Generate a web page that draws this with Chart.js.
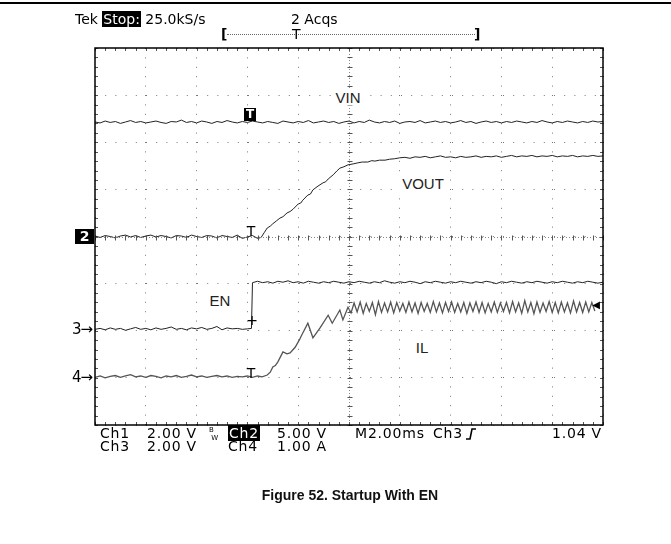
<!DOCTYPE HTML>
<html>
<head>
  <meta name='viewport' content='width=device-width, initial-scale=1'>
  <title>Figure 52. Startup With EN</title>
  <script src='https://cdn.jsdelivr.net/npm/chart.js'></script>
  <style>
    body {
      margin: 0;
      padding: 0;
      background-color: #fff;
      width: 671px;
      height: 544px;
      overflow: hidden;
      position: relative;
    }
    #scope {
      position: absolute;
      left: 0;
      top: 0;
    }
    .txt {
      position: absolute;
      font-family: 'DejaVu Sans', sans-serif;
      font-size: 14px;
      line-height: 14px;
      color: #000;
      white-space: nowrap;
    }
    .ft {
      letter-spacing: 0.8px;
    }
    .inv {
      background-color: #000;
      color: #fff;
      padding: 0 1px;
    }
    .lbl {
      position: absolute;
      font-family: Arial, 'Liberation Sans', sans-serif;
      font-size: 15px;
      line-height: 17px;
      color: #222;
      background-color: #fff;
      padding: 0 4px;
      transform: translate(-50%, -50%);
    }
    .mk {
      position: absolute;
      font-family: 'DejaVu Sans', sans-serif;
      font-size: 14px;
      line-height: 14px;
      color: #000;
      transform: translate(-50%, -50%);
    }
    .topline {
      position: absolute;
      left: 0;
      top: 2px;
      width: 671px;
      height: 2px;
      background-color: #000;
    }
    .caption {
      position: absolute;
      left: 0;
      width: 700px;
      top: 487px;
      text-align: center;
      font-family: Arial, 'Liberation Sans', sans-serif;
      font-weight: bold;
      font-size: 14px;
      color: #111;
    }
  </style>
</head>
<body>
  <canvas id='scope' width='671' height='544'></canvas>
  <div class='topline'></div>

  <!-- cabecalho do osciloscopio -->
  <div class='txt' style='left:75px;top:12px'>Tek <span class='inv'>Stop:</span> 25.0kS/s</div>
  <div class='txt' style='left:291px;top:12px'>2 Acqs</div>
  <div class='txt' style='left:221px;top:27px;font-weight:bold'>[</div>
  <div style='position:absolute;left:227px;top:34px;width:248px;border-top:1px dotted #666'></div>
  <div class='txt' style='left:292px;top:27px'>T</div>
  <div class='txt' style='left:474px;top:27px;font-weight:bold'>]</div>

  <!-- rotulos dos canais -->
  <div class='lbl' style='left:348px;top:97px'>VIN</div>
  <div class='lbl' style='left:423px;top:183px'>VOUT</div>
  <div class='lbl' style='left:220px;top:300px'>EN</div>
  <div class='lbl' style='left:422px;top:347px'>IL</div>

  <!-- marcadores -->
  <div class='txt inv' style='left:244px;top:108px;font-size:12px;line-height:13px;font-weight:bold;padding:0 2px'>T</div>
  <div class='mk' style='left:251px;top:231px'>T</div>
  <div class='mk' style='left:252px;top:320px'>+</div>
  <div class='mk' style='left:251px;top:373px'>T</div>
  <div class='mk' style='left:596px;top:305px;font-size:10px'>&#9664;</div>
  <div class='txt inv' style='left:75px;top:229px;width:17px;line-height:15px;text-align:center;font-weight:bold'>2</div>
  <div class='txt' style='left:72px;top:322px;font-size:15px;letter-spacing:-1px'>3&#8594;</div>
  <div class='txt' style='left:72px;top:370px;font-size:15px;letter-spacing:-1px'>4&#8594;</div>

  <!-- rodape do osciloscopio -->
  <div class='txt ft' style='left:100px;top:426px'>Ch1</div>
  <div class='txt ft' style='left:147px;top:426px'>2.00 V</div>
  <div class='txt' style='left:209px;top:426px;font-size:7px;line-height:8px'>B<br>&nbsp;W</div>
  <div class='txt ft' style='left:228px;top:426px'><span class='inv'>Ch2</span></div>
  <div class='txt ft' style='left:277px;top:426px'>5.00 V</div>
  <div class='txt ft' style='left:355px;top:426px'>M2.00ms</div>
  <div class='txt ft' style='left:433px;top:426px'>Ch3</div>
  <svg style='position:absolute;left:465px;top:428px' width='12' height='12'><polyline points='1,11 5,11 7,1 11,1' fill='none' stroke='#000' stroke-width='1.6'/></svg>
  <div class='txt ft' style='left:552px;top:426px'>1.04 V</div>
  <div class='txt ft' style='left:100px;top:439px'>Ch3</div>
  <div class='txt ft' style='left:147px;top:439px'>2.00 V</div>
  <div class='txt ft' style='left:228px;top:439px'>Ch4</div>
  <div class='txt ft' style='left:277px;top:439px'>1.00 A</div>

  <div class='caption'>Figure 52. Startup With EN</div>

  <script>
    // eixo x em divisoes (2 ms/div), eixo y em divisoes (-4 a 4)
    var xTicks = [0, 1, 2, 3, 4, 5, 6, 7, 8, 9, 10];
    var yTicks = [-4, -3, -2, -1, 0, 1, 2, 3, 4];

    // VIN (Ch1) - amostras a cada 0.1 div
    var vinTime = [0,0.1,0.2,0.3,0.4,0.5,0.6,0.7,0.8,0.9,1,1.1,1.2,1.3,1.4,1.5,1.6,1.7,1.8,1.9,2,2.1,2.2,2.3,2.4,2.5,2.6,2.7,2.8,2.9,3,3.1,3.2,3.3,3.4,3.5,3.6,3.7,3.8,3.9,4,4.1,4.2,4.3,4.4,4.5,4.6,4.7,4.8,4.9,5,5.1,5.2,5.3,5.4,5.5,5.6,5.7,5.8,5.9,6,6.1,6.2,6.3,6.4,6.5,6.6,6.7,6.8,6.9,7,7.1,7.2,7.3,7.4,7.5,7.6,7.7,7.8,7.9,8,8.1,8.2,8.3,8.4,8.5,8.6,8.7,8.8,8.9,9,9.1,9.2,9.3,9.4,9.5,9.6,9.7,9.8,9.9,10];
    var vinDiv = [2.43,2.41,2.45,2.42,2.44,2.40,2.43,2.46,2.42,2.44,
      2.41,2.43,2.45,2.42,2.40,2.44,2.43,2.47,2.42,2.44,
      2.41,2.45,2.43,2.40,2.44,2.42,2.46,2.43,2.41,2.44,
      2.42,2.45,2.43,2.41,2.44,2.42,2.40,2.45,2.43,2.41,
      2.44,2.42,2.46,2.41,2.43,2.45,2.42,2.44,2.40,2.43,
      2.45,2.41,2.44,2.42,2.47,2.43,2.41,2.44,2.42,2.45,
      2.40,2.43,2.44,2.42,2.46,2.41,2.43,2.45,2.42,2.44,
      2.41,2.43,2.46,2.42,2.44,2.40,2.43,2.45,2.42,2.44,
      2.41,2.44,2.42,2.45,2.43,2.41,2.44,2.42,2.46,2.43,
      2.41,2.44,2.42,2.45,2.43,2.41,2.44,2.42,2.45,2.43,2.44];

    // VOUT (Ch2) - [div, div]
    var voutPts = [[0,0.01],[0.1,-0.02],[0.2,0.02],[0.3,0.00],[0.4,-0.03],[0.5,0.01],[0.6,0.03],[0.7,-0.01],[0.8,0.02],[0.9,-0.02],
      [1.0,0.01],[1.1,0.03],[1.2,-0.01],[1.3,0.02],[1.4,0.00],[1.5,-0.03],[1.6,0.02],[1.7,0.01],[1.8,-0.02],[1.9,0.03],
      [2.0,0.00],[2.1,-0.02],[2.2,0.02],[2.3,0.01],[2.4,-0.03],[2.5,0.02],[2.6,0.00],[2.7,-0.02],[2.8,0.03],[2.9,-0.04],
      [3.0,-0.01],[3.1,0.02],[3.2,-0.04],[3.27,-0.02],
      [3.33,0.08],[3.39,0.18],[3.45,0.22],[3.50,0.27],[3.57,0.33],[3.64,0.39],[3.70,0.42],[3.78,0.50],[3.84,0.53],[3.90,0.58],
      [4.00,0.69],[4.05,0.71],[4.09,0.77],[4.19,0.88],[4.24,0.90],[4.29,0.99],[4.39,1.07],[4.49,1.14],[4.54,1.16],[4.59,1.22],
      [4.69,1.31],[4.76,1.39],[4.82,1.45],[4.90,1.48],[4.98,1.52],[5.08,1.54],[5.16,1.56],[5.26,1.58],[5.37,1.58],[5.45,1.61],
      [5.51,1.60],[5.60,1.62],[5.71,1.62],[5.80,1.64],[5.90,1.65],[6.00,1.67],
      [6.1,1.68],[6.2,1.66],[6.3,1.69],[6.4,1.68],[6.5,1.70],[6.6,1.67],[6.7,1.69],[6.8,1.71],[6.9,1.68],[7.0,1.69],
      [7.1,1.67],[7.2,1.70],[7.3,1.68],[7.4,1.69],[7.5,1.71],[7.6,1.68],[7.7,1.70],[7.8,1.69],[7.9,1.71],[8.0,1.68],
      [8.1,1.70],[8.2,1.72],[8.3,1.69],[8.4,1.71],[8.5,1.70],[8.6,1.72],[8.7,1.69],[8.8,1.71],[8.9,1.70],[9.0,1.72],
      [9.1,1.69],[9.2,1.71],[9.3,1.70],[9.4,1.72],[9.5,1.69],[9.6,1.71],[9.7,1.70],[9.8,1.72],[9.9,1.70],[10.0,1.71]];

    // EN (Ch3)
    var enPts = [[0,-1.97],[0.1,-1.95],[0.2,-1.98],[0.3,-1.94],[0.4,-1.97],[0.5,-1.95],[0.6,-1.99],[0.7,-1.96],[0.8,-1.93],[0.9,-1.97],
      [1.0,-1.95],[1.1,-1.98],[1.2,-1.94],[1.3,-1.97],[1.4,-1.95],[1.5,-1.92],[1.6,-1.97],[1.7,-1.95],[1.8,-1.98],[1.9,-1.94],
      [2.0,-1.96],[2.1,-1.93],[2.2,-1.97],[2.3,-1.95],[2.4,-1.91],[2.5,-1.98],[2.6,-1.94],[2.7,-1.96],[2.8,-1.95],[2.9,-1.97],
      [3.0,-1.96],[3.08,-1.95],[3.10,-0.98],
      [3.2,-0.95],[3.3,-0.98],[3.4,-0.96],[3.5,-0.99],[3.6,-0.95],[3.7,-0.97],[3.8,-0.94],[3.9,-0.98],[4.0,-0.96],[4.1,-0.99],
      [4.2,-0.95],[4.3,-0.97],[4.4,-0.99],[4.5,-0.96],[4.6,-0.98],[4.7,-0.95],[4.8,-0.97],[4.9,-0.99],[5.0,-0.96],[5.1,-0.98],
      [5.2,-0.95],[5.3,-0.97],[5.4,-0.99],[5.5,-0.96],[5.6,-0.98],[5.7,-0.94],[5.8,-0.97],[5.9,-0.99],[6.0,-0.96],[6.1,-0.98],
      [6.2,-0.95],[6.3,-0.97],[6.4,-1.00],[6.5,-0.96],[6.6,-0.98],[6.7,-0.95],[6.8,-0.97],[6.9,-0.99],[7.0,-0.96],[7.1,-0.98],
      [7.2,-0.95],[7.3,-0.97],[7.4,-0.99],[7.5,-0.96],[7.6,-0.98],[7.7,-0.95],[7.8,-0.97],[7.9,-1.00],[8.0,-0.96],[8.1,-0.98],
      [8.2,-0.95],[8.3,-0.97],[8.4,-0.99],[8.5,-0.96],[8.6,-0.98],[8.7,-0.95],[8.8,-0.97],[8.9,-0.99],[9.0,-0.96],[9.1,-0.98],
      [9.2,-0.95],[9.3,-0.97],[9.4,-0.99],[9.5,-0.96],[9.6,-0.98],[9.7,-0.95],[9.8,-0.97],[9.9,-0.99],[10.0,-0.97]];

    // IL (Ch4)
    var ilPts = [[0,-2.99],[0.1,-2.96],[0.2,-3.00],[0.3,-2.97],[0.4,-2.95],[0.5,-2.99],[0.6,-2.96],[0.7,-2.93],[0.8,-2.98],[0.9,-2.96],
      [1.0,-2.99],[1.1,-2.95],[1.2,-2.97],[1.3,-3.00],[1.4,-2.96],[1.5,-2.98],[1.6,-2.95],[1.7,-2.99],[1.8,-2.97],[1.9,-2.94],
      [2.0,-2.98],[2.1,-2.96],[2.2,-2.99],[2.3,-2.97],[2.4,-2.95],[2.5,-2.98],[2.6,-2.96],[2.7,-2.99],[2.8,-2.97],[2.9,-2.98],
      [3.0,-2.96],[3.1,-2.99],[3.2,-2.96],[3.29,-2.98],
      [3.39,-2.94],[3.45,-2.88],[3.50,-2.77],[3.55,-2.74],[3.60,-2.66],[3.70,-2.45],[3.78,-2.49],[3.84,-2.47],[3.94,-2.35],[4.02,-2.20],
      [4.07,-2.09],[4.19,-1.84],[4.29,-2.15],[4.43,-1.94],[4.59,-1.67],[4.67,-1.84],[4.82,-1.56],[4.88,-1.77],[4.98,-1.50],
      [5.04,-1.62],[5.10,-1.41],[5.16,-1.60],[5.22,-1.39],[5.28,-1.63],[5.34,-1.42],[5.40,-1.59],[5.46,-1.40],[5.52,-1.66],[5.58,-1.38],
      [5.64,-1.61],[5.70,-1.41],[5.76,-1.60],[5.82,-1.39],[5.88,-1.62],[5.94,-1.40],[6.00,-1.58],[6.06,-1.42],[6.12,-1.61],[6.18,-1.39],
      [6.24,-1.60],[6.30,-1.41],[6.36,-1.63],[6.42,-1.40],[6.48,-1.59],[6.54,-1.42],[6.60,-1.61],[6.66,-1.38],[6.72,-1.60],[6.78,-1.41],
      [6.84,-1.62],[6.90,-1.40],[6.96,-1.59],[7.02,-1.39],[7.08,-1.61],[7.14,-1.42],[7.20,-1.60],[7.26,-1.40],[7.32,-1.63],[7.38,-1.41],
      [7.44,-1.59],[7.50,-1.39],[7.56,-1.61],[7.62,-1.40],[7.68,-1.62],[7.74,-1.42],[7.80,-1.60],[7.86,-1.39],[7.92,-1.61],[7.98,-1.41],
      [8.04,-1.59],[8.10,-1.40],[8.16,-1.62],[8.22,-1.38],[8.28,-1.60],[8.34,-1.41],[8.40,-1.63],[8.46,-1.36],[8.52,-1.60],[8.58,-1.40],
      [8.64,-1.64],[8.70,-1.39],[8.76,-1.61],[8.82,-1.41],[8.88,-1.59],[8.94,-1.38],[9.00,-1.61],[9.06,-1.40],[9.12,-1.62],[9.18,-1.39],
      [9.24,-1.60],[9.30,-1.41],[9.36,-1.62],[9.42,-1.37],[9.48,-1.60],[9.54,-1.40],[9.60,-1.61],[9.66,-1.39],[9.72,-1.60],[9.78,-1.40],
      [9.84,-1.58]];

    function toXY(pts) {
      return pts.map(function(p) { return {x: p[0], y: p[1]}; });
    }

    function trace(pts, color, width) {
      return {
        data: toXY(pts),
        borderColor: color,
        borderWidth: width,
        pointRadius: 0,
        tension: 0,
        fill: false
      };
    }

    // moldura, eixos centrais e marcas de subdivisao (0.2 div)
    var scopeFrame = {
      id: 'scopeFrame',
      afterDatasetsDraw: function(chart) {
        var c = chart.ctx, a = chart.chartArea;
        var xs = chart.scales.x, ys = chart.scales.y;
        var cx = Math.round(xs.getPixelForValue(5)) + 0.5, cy = Math.round(ys.getPixelForValue(0)) + 0.5;
        c.save();
        c.strokeStyle = '#888';
        c.lineWidth = 1;
        c.setLineDash([1, 2]);
        c.beginPath();
        c.moveTo(cx, a.top); c.lineTo(cx, a.bottom);
        c.moveTo(a.left, cy); c.lineTo(a.right, cy);
        c.stroke();
        c.setLineDash([]);
        c.strokeStyle = '#555';
        c.beginPath();
        for (var i = 0; i <= 50; i++) {
          var px = Math.round(xs.getPixelForValue(i * 0.2)) + 0.5;
          c.moveTo(px, cy - 2); c.lineTo(px, cy + 3);
          c.moveTo(px, a.top); c.lineTo(px, a.top + 3);
          c.moveTo(px, a.bottom); c.lineTo(px, a.bottom - 3);
        }
        for (var j = 0; j <= 40; j++) {
          var py = Math.round(ys.getPixelForValue(-4 + j * 0.2)) + 0.5;
          c.moveTo(cx - 2, py); c.lineTo(cx + 3, py);
          c.moveTo(a.left, py); c.lineTo(a.left + 3, py);
          c.moveTo(a.right, py); c.lineTo(a.right - 3, py);
        }
        c.stroke();
        c.strokeStyle = '#000';
        c.lineWidth = 1.5;
        c.strokeRect(a.left, a.top, a.right - a.left, a.bottom - a.top);
        c.restore();
      }
    };

    var ctx = document.getElementById('scope').getContext('2d');
    var scopeChart = new Chart(ctx, {
      type: 'line',
      data: {
        datasets: [
          trace(vinTime.map(function(t, i) { return [t, vinDiv[i]]; }), '#222', 1),
          trace(voutPts, '#222', 1),
          trace(enPts, '#222', 1),
          trace(ilPts, '#555', 1.3)
        ]
      },
      options: {
        responsive: false,
        animation: false,
        layout: { padding: { left: 95, right: 68, top: 48, bottom: 119 } },
        plugins: { legend: { display: false }, tooltip: { enabled: false } },
        scales: {
          x: {
            type: 'linear', min: 0, max: 10,
            afterBuildTicks: function(s) { s.ticks = xTicks.map(function(v) { return {value: v}; }); },
            ticks: { display: false },
            border: { display: false, dash: [1, 8.4] },
            grid: { color: '#777', lineWidth: 1, drawTicks: false }
          },
          y: {
            type: 'linear', min: -4, max: 4,
            afterBuildTicks: function(s) { s.ticks = yTicks.map(function(v) { return {value: v}; }); },
            ticks: { display: false },
            border: { display: false, dash: [1, 9.2] },
            grid: { color: '#777', lineWidth: 1, drawTicks: false }
          }
        }
      },
      plugins: [scopeFrame]
    });
  </script>
</body>
</html>
